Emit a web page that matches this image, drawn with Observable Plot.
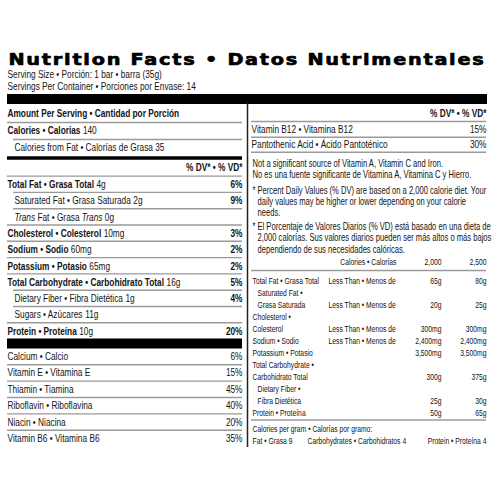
<!DOCTYPE html>
<html><head><meta charset="utf-8">
<script src="https://cdn.jsdelivr.net/npm/d3@7"></script>
<script src="https://cdn.jsdelivr.net/npm/@observablehq/plot@0.6"></script>
<style>html,body{margin:0;padding:0;background:#fff}</style>
</head><body><div id="chart"></div>
<script>
// ---------- DATA ----------
const title = "Nutrition Facts • Datos Nutrimentales";
const servingLines = ["Serving Size • Porción: 1 bar • barra (35g)", "Servings Per Container • Porciones por Envase: 14"];
const amountHeader = "Amount Per Serving • Cantidad por Porción";
const dvHeader = "% DV* • % VD*";
const calories = ["Calories • Calorias", "140"];
const caloriesFromFat = "Calories from Fat • Calorías de Grasa 35";
const nutrients = ["Total Fat • Grasa Total", "Saturated Fat • Grasa Saturada", "_Trans_ Fat • Grasa _Trans_", "Cholesterol • Colesterol", "Sodium • Sodio", "Potassium • Potasio", "Total Carbohydrate • Carbohidrato Total", "Dietary Fiber • Fibra Dietética", "Sugars • Azúcares", "Protein • Proteína"];
const nutrientAmounts = ["4g", "2g", "0g", "10mg", "60mg", "65mg", "16g", "1g", "11g", "10g"];
const nutrientDV = ["6%", "9%", "", "3%", "2%", "2%", "5%", "4%", "", "20%"];
const nutrientIsSub = [false, true, true, false, false, false, false, true, true, false];
const vitaminsLeft = ["Calcium • Calcio", "Vitamin E • Vitamina E", "Thiamin • Tiamina", "Riboflavin • Riboflavina", "Niacin • Niacina", "Vitamin B6 • Vitamina B6"];
const vitaminsLeftDV = ["6%", "15%", "45%", "40%", "20%", "35%"];
const vitaminsRight = ["Vitamin B12 • Vitamina B12", "Pantothenic Acid • Ácido Pantoténico"];
const vitaminsRightDV = ["15%", "30%"];
const notSignificant = ["Not a significant source of Vitamin A, Vitamin C and Iron.", "No es una fuente significante de Vitamina A, Vitamina C y Hierro."];
const footnoteEn = ["Percent Daily Values (% DV) are based on a 2,000 calorie diet. Your", "daily values may be higher or lower depending on your calorie", "needs."];
const footnoteEs = ["El Porcentaje de Valores Diarios (% VD) está basado en una dieta de", "2,000 calorías. Sus valores diarios pueden ser más altos o más bajos", "dependiendo de sus necesidades calóricas."];
const dvTableHeader = ["Calories • Calorías", "2,000", "2,500"];
const dvTableLabels = ["Total Fat • Grasa Total", "Saturated Fat •", "Grasa Saturada", "Cholesterol •", "Colesterol", "Sodium • Sodio", "Potassium • Potasio", "Total Carbohydrate •", "Carbohidrato Total", "Dietary Fiber •", "Fibra Dietética", "Protein • Proteína"];
const dvTableIndent = [false, true, true, false, false, false, false, false, false, true, true, false];
const dvTableQualifier = ["Less Than • Menos de", "", "Less Than • Menos de", "", "Less Than • Menos de", "Less Than • Menos de", "", "", "", "", "", ""];
const dvTable2000 = ["65g", "", "20g", "", "300mg", "2,400mg", "3,500mg", "", "300g", "", "25g", "50g"];
const dvTable2500 = ["80g", "", "25g", "", "300mg", "2,400mg", "3,500mg", "", "375g", "", "30g", "65g"];
const caloriesPerGramHeader = "Calories per gram • Calorías por gramo:";
const caloriesPerGram = ["Fat • Grasa 9", "Carbohydrates • Carbohidratos 4", "Protein • Proteína 4"];

// ---------- LAYOUT ----------
const FAM = "'Liberation Sans', Arial, sans-serif";
const ctx = document.createElement("canvas").getContext("2d");
// text styles: size + horizontal condensing factor (sizes are distinct so the squeeze can be looked up)
const ST = {
  body: {size: 11, k: 0.755},
  note: {size: 10, k: 0.76},
  table: {size: 9.4, k: 0.72}
};
const squeezeBySize = new Map(Object.values(ST).map(s => [s.size, s.k]));
function measure(text, st, weight = "normal", style = "normal") {
  ctx.font = `${style} ${weight} ${st.size}px ${FAM}`;
  return ctx.measureText(text).width * st.k;
}
const segs = [];
function put(x, y, text, st, weight = "normal", style = "normal", anchor = "start") {
  if (text) segs.push({x, y, text, size: st.size, weight, style, anchor});
}
function putRich(x, y, parts, st) {
  let cx = x;
  parts.forEach(p => {
    const w = p.weight || "normal", s = p.style || "normal";
    if (p.gap) cx += measure(" ", st, w, s);
    put(cx, y, p.text, st, w, s);
    cx += measure(p.text, st, w, s);
  });
}
function italicParts(str, weight) {
  const res = [];
  let pendingGap = false;
  str.split("_").forEach((t, i) => {
    const style = i % 2 ? "italic" : "normal";
    const core = t.trim();
    const lead = /^\s/.test(t), trail = /\s$/.test(t);
    if (core) { res.push({text: core, weight, style, gap: lead || pendingGap}); pendingGap = trail; }
    else if (t.length) pendingGap = true;
  });
  return res;
}

const grayRules = [], blackRules = [], vRules = [];
const L0 = 7, L1 = 242, LI = 13, R0 = 251, R1 = 486;
const B = ST.body, N = ST.note, T = ST.table;

const titleData = [{x: 8, y: 59, text: title}];
put(7, 74, servingLines[0], B);
put(7, 86, servingLines[1], B);
blackRules.push({y: 98.5, x1: 7, x2: 487, w: 10});

// left column
put(L0, 113, amountHeader, B, "bold");
grayRules.push({y: 122, x1: L0, x2: L1});
putRich(L0, 130, [{text: calories[0], weight: "bold"}, {text: calories[1], gap: true}], B);
grayRules.push({y: 139, x1: LI, x2: L1});
put(14, 147, caloriesFromFat, B);
blackRules.push({y: 157.5, x1: L0, x2: L1, w: 3.5});
put(L1, 167, dvHeader, B, "bold", "normal", "end");
nutrients.forEach((n, i) => {
  const y = 184 + 16.3 * i;
  const sub = nutrientIsSub[i];
  grayRules.push({y: y - 8.4, x1: sub ? LI : L0, x2: L1});
  const parts = italicParts(n, sub ? "normal" : "bold");
  parts.push({text: nutrientAmounts[i], gap: true});
  putRich(sub ? 14 : L0, y, parts, B);
  put(L1, y, nutrientDV[i], B, "bold", "normal", "end");
});
blackRules.push({y: 343, x1: L0, x2: L1, w: 10});
vitaminsLeft.forEach((v, i) => {
  const y = 356 + 16.4 * i;
  if (i > 0) grayRules.push({y: y - 8.2, x1: L0, x2: L1});
  put(L0, y, v, B);
  put(L1, y, vitaminsLeftDV[i], B, "normal", "normal", "end");
});
vRules.push({x: 247, y1: 103, y2: 447});

// right column
put(R1, 113, dvHeader, B, "bold", "normal", "end");
grayRules.push({y: 121, x1: R0, x2: R1});
vitaminsRight.forEach((v, i) => {
  const y = 129 + 15 * i;
  put(R0, y, v, B);
  put(R1, y, vitaminsRightDV[i], B, "normal", "normal", "end");
  grayRules.push({y: y + 7.7, x1: R0, x2: R1});
});
notSignificant.forEach((t, i) => put(252, 163 + 11 * i, t, N));
footnoteEn.forEach((t, i) => { const y = 190 + 11 * i; if (i === 0) put(252, y, "*", N); put(257, y, t, N); });
footnoteEs.forEach((t, i) => { const y = 226 + 11.5 * i; if (i === 0) put(252, y, "*", N); put(257, y, t, N); });

put(396, 261, dvTableHeader[0], T, "normal", "normal", "end");
put(441, 261, dvTableHeader[1], T, "normal", "normal", "end");
put(R1, 261, dvTableHeader[2], T, "normal", "normal", "end");
grayRules.push({y: 270, x1: R0, x2: R1});
dvTableLabels.forEach((lab, i) => {
  const y = 280 + 12 * i;
  put(dvTableIndent[i] ? 257 : 252, y, lab, T);
  put(328, y, dvTableQualifier[i], T);
  put(441, y, dvTable2000[i], T, "normal", "normal", "end");
  put(R1, y, dvTable2500[i], T, "normal", "normal", "end");
});
grayRules.push({y: 419.5, x1: R0, x2: R1});
put(252, 428, caloriesPerGramHeader, T);
put(252, 440, caloriesPerGram[0], T);
put(307, 440, caloriesPerGram[1], T);
put(R1, 440, caloriesPerGram[2], T, "normal", "normal", "end");

// ---------- MARKS ----------
const groups = d3.groups(segs, d => `${d.size}|${d.weight}|${d.style}|${d.anchor}`);
const textMarks = groups.map(([key, arr]) => {
  const d0 = arr[0];
  return Plot.text(arr, {x: "x", y: "y", text: "text", fontSize: d0.size, fontWeight: d0.weight,
    fontStyle: d0.style, textAnchor: d0.anchor, fontFamily: FAM, fill: "#141414"});
});

const chart = Plot.plot({
  width: 500, height: 500, margin: 0,
  x: {domain: [0, 500], range: [0, 500], axis: null},
  y: {domain: [0, 500], range: [0, 500], axis: null},
  style: {background: "#fff"},
  marks: [
    Plot.ruleY(grayRules, {y: "y", x1: "x1", x2: "x2", stroke: "#9a9a9a", strokeWidth: 1.4}),
    ...d3.groups(blackRules, d => d.w).map(([w, arr]) =>
      Plot.ruleY(arr, {y: "y", x1: "x1", x2: "x2", stroke: "#000", strokeWidth: w})),
    Plot.ruleX(vRules, {x: "x", y1: "y1", y2: "y2", stroke: "#222", strokeWidth: 1.5}),
    Plot.text(titleData, {x: "x", y: "y", text: "text", fontSize: 16.5, fontWeight: 900,
      fontFamily: "'DejaVu Sans', Verdana, sans-serif", textAnchor: "start", fill: "#000",
      stroke: "#000", strokeWidth: 0.7}),
    ...textMarks
  ]
});
document.getElementById("chart").appendChild(chart);

// post-render typography: stretch the title (extended face), squeeze the condensed body type
function sizeOf(el) {
  for (let n = el; n && n !== chart; n = n.parentNode) {
    const a = n.getAttribute && (n.getAttribute("font-size") || (n.style && n.style.fontSize));
    if (a) return parseFloat(a);
  }
  return NaN;
}
chart.querySelectorAll("text").forEach(el => {
  if (el.textContent === title) {
    el.setAttribute("textLength", 477);
    el.setAttribute("lengthAdjust", "spacingAndGlyphs");
    el.setAttribute("letter-spacing", "1.5");
    return;
  }
  const k = squeezeBySize.get(sizeOf(el));
  if (!k) return;
  const t = el.getAttribute("transform");
  if (t) el.setAttribute("transform", `${t} scale(${k},1)`);
  else {
    const x = el.getAttribute("x") || 0, y = el.getAttribute("y") || 0;
    el.removeAttribute("x"); el.removeAttribute("y");
    el.setAttribute("transform", `translate(${x},${y}) scale(${k},1)`);
  }
});
</script>
</body></html>
